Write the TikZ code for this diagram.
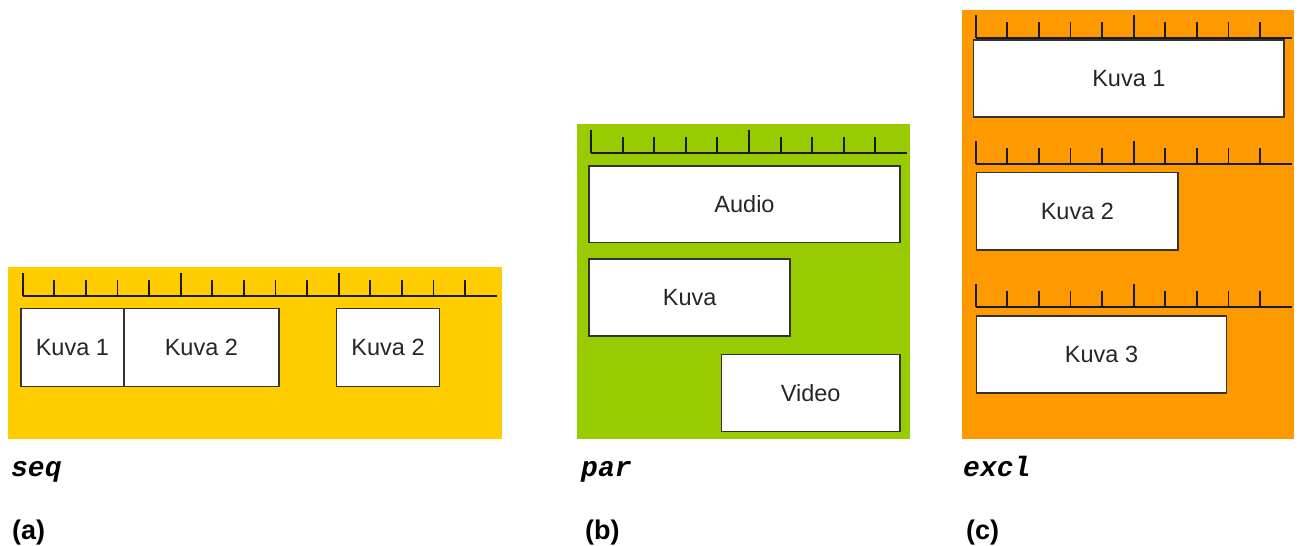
\documentclass[tikz,border=0pt]{standalone}
\usepackage{fontspec}
\setmainfont{Liberation Sans}
\newfontfamily\labmono{Liberation Mono}
\definecolor{seqcol}{HTML}{FFCC00}
\definecolor{parcol}{HTML}{99CC00}
\definecolor{exclcol}{HTML}{FF9900}
\definecolor{boxline}{HTML}{333333}
\definecolor{rulecol}{HTML}{1A1A1A}
\newcommand\myruler[4]{% x0, baseline y, number of ticks, x end
  \draw[rulerline] (#1,#2) -- (#4,#2);
  \foreach \i in {0,...,\numexpr#3-1\relax}{%
    \pgfmathtruncatemacro\md{mod(\i,5)}%
    \ifnum\md=0
      \draw[rulerline] ({#1+\i*31.6},#2) -- ++(0,-23);
    \else
      \draw[rulerline] ({#1+\i*31.6},#2) -- ++(0,-16.5);
    \fi
  }%
}
\begin{document}
\begin{tikzpicture}[x=1pt,y=-1pt,
  rulerline/.style={draw=rulecol,line width=1.9pt},
  mbox/.style={draw=boxline,fill=white,line width=1.7pt,inner sep=0pt,
    anchor=north west,text=black!85,font=\fontsize{23.5}{26}\selectfont},
  tag/.style={anchor=base west,inner sep=0pt,
    font=\labmono\bfseries\itshape\fontsize{28}{30}\selectfont},
  sub/.style={anchor=base west,inner sep=0pt,
    font=\bfseries\fontsize{27}{30}\selectfont}]
\useasboundingbox (0,0) rectangle (1301,546);
% panels
\fill[seqcol] (8,267) rectangle (502,439);
\fill[parcol] (577,124.3) rectangle (910,439);
\fill[exclcol] (962,10) rectangle (1294.3,439.3);
% (a) seq
\myruler{22.7}{296}{15}{497}
\node[mbox,minimum width=103pt,minimum height=78pt] (seqa) at (20,307.7) {Kuva 1};
\node[mbox,minimum width=155pt,minimum height=78pt] (seqb) at (123,307.7) {Kuva 2};
\node[mbox,minimum width=103pt,minimum height=78pt] (seqc) at (335.7,307.7) {Kuva 2};
% (b) par
\myruler{591}{153.3}{10}{907}
\node[mbox,minimum width=310.7pt,minimum height=76.7pt] (audio) at (588.3,165) {Audio};
\node[mbox,minimum width=201pt,minimum height=76.7pt] (kuva) at (588.3,258.3) {Kuva};
\node[mbox,minimum width=178.3pt,minimum height=77pt] (video) at (720.7,353.7) {Video};
% (c) excl
\myruler{975.7}{38.3}{10}{1291.7}
\node[mbox,minimum width=310.6pt,minimum height=77pt] (exa) at (972.7,39) {Kuva 1};
\myruler{975.7}{164.3}{10}{1291.7}
\node[mbox,minimum width=201.6pt,minimum height=77.3pt] (exb) at (975.7,171.7) {Kuva 2};
\myruler{975.7}{307.3}{10}{1291.7}
\node[mbox,minimum width=250pt,minimum height=77.3pt] (exc) at (975.7,315) {Kuva 3};
% labels
\node[tag] (tseq) at (11,476) {seq};
\node[tag] (tpar) at (581,476) {par};
\node[tag] (texcl) at (963,476) {excl};
\node[sub] (la) at (12,539) {(a)};
\node[sub] (lb) at (585,539) {(b)};
\node[sub] (lc) at (966,539) {(c)};
\end{tikzpicture}
\end{document}
